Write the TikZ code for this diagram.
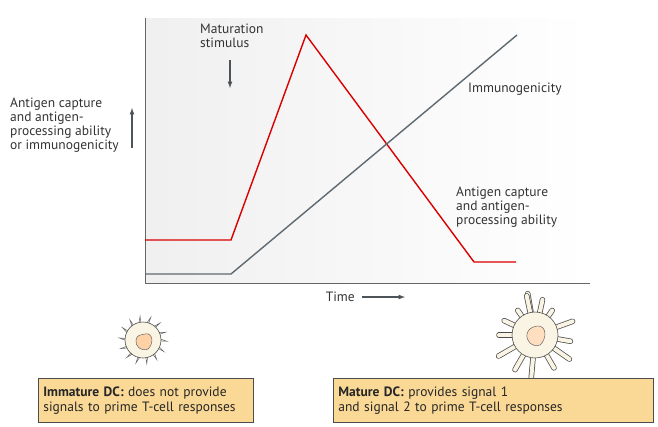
\documentclass[tikz,border=0pt]{standalone}
\usepackage{fontspec}
\setmainfont{PT Sans}
\definecolor{boxc}{RGB}{250,216,150}
\definecolor{slate}{RGB}{95,105,112}
\definecolor{cellc}{RGB}{250,244,228}
\begin{document}
\begin{tikzpicture}[x=1pt,y=-1pt,
  lbl/.style={font=\fontsize{13.5}{14}\selectfont, text=black!80, align=left, inner sep=0},
  box/.style={draw=black!70, fill=boxc, line width=0.8pt, font=\fontsize{13.5}{15}\selectfont, align=left, text=black!85, inner sep=5pt},
  arr/.style={-latex, draw=slate!80!black, line width=1.2pt},
  cellb/.style={draw=black!70, line width=0.6pt, fill=cellc}]
\useasboundingbox (0,0) rectangle (658,426);
% plot area
\fill[left color=black!6, right color=white] (145,18) rectangle (590,283);
\draw[black!60, line width=1pt] (145,18) -- (145,283) -- (590,283);
\coordinate (r0) at (145,240); \coordinate (r1) at (231,240); \coordinate (r2) at (306,35);
\coordinate (r3) at (474,262); \coordinate (r4) at (516,262);
\coordinate (g0) at (145,274); \coordinate (g1) at (231,274); \coordinate (g2) at (517,35);
\draw[red!85!black, line width=1.4pt] (r0)--(r1)--(r2)--(r3)--(r4);
\draw[slate, line width=1.4pt] (g0)--(g1)--(g2);
% labels
\node[lbl, anchor=north west] (ms) at (200,24) {Maturation\\stimulus};
\coordinate (msa) at (230,60); \coordinate (msb) at (230,88);
\draw[arr] (msa) -- (msb);
\node[lbl, anchor=west] (yl) at (10,125) {Antigen capture\\and antigen-\\processing ability\\or immunogenicity};
\coordinate (ya) at (132,148); \coordinate (yb) at (132,108);
\draw[arr] (ya) -- (yb);
\node[lbl, anchor=west] (im) at (468,89) {Immunogenicity};
\node[lbl, anchor=west] (ac) at (456,207) {Antigen capture\\and antigen-\\processing ability};
\node[lbl, anchor=east] (tm) at (355,297) {Time};
\coordinate (ta) at (362,297); \coordinate (tb) at (405,297);
\draw[arr] (ta) -- (tb);
% immature cell
\begin{scope}[shift={(143,340)}]
  \foreach \a in {0,26,...,359}{
    \draw[black!60, line width=0.5pt, fill=cellc] (\a-4:17) -- (\a+3:24) -- (\a+3:17);}
  \node[cellb, circle, minimum size=36pt, inner sep=0] (ic) at (0,0) {};
  \fill[orange!35, draw=black!60, line width=0.5pt] (2,-6) .. controls (10,-8) and (11,4) .. (5,9) .. controls (-2,12) and (-8,6) .. (-7,0) .. controls (-6,-5) and (-3,-5) .. (2,-6);
\end{scope}
% mature cell
\begin{scope}[shift={(535,335)}]
  \foreach \a/\l in {-100/42,-78/36,-55/30,-20/40,10/36,35/42,60/38,95/50,120/40,150/42,180/36,205/34,235/30,258/40}{
    \draw[black!70, line width=5.5pt, line cap=round] (0,0) -- (\a:\l);
    \draw[cellc, line width=4pt, line cap=round] (0,0) -- (\a:\l);}
  \node[circle, fill=cellc, draw=black!70, line width=0.6pt, minimum size=46pt, inner sep=0] (mc) at (0,0) {};
  \fill[cellc] (0,0) circle (22pt);
  \fill[orange!25, draw=black!60, line width=0.5pt] (2,-9) .. controls (12,-10) and (12,4) .. (5,10) .. controls (-3,13) and (-9,6) .. (-8,-1) .. controls (-7,-6) and (-3,-8) .. (2,-9);
\end{scope}
% boxes
\node[box, anchor=north west, text width=205pt, minimum height=44pt] (b1) at (38,378)
  {\textbf{Immature DC:} does not provide\\signals to prime T-cell responses};
\node[box, anchor=north west, text width=310pt, minimum height=44pt] (b2) at (333,378)
  {\textbf{Mature DC:} provides signal 1\\and signal 2 to prime T-cell responses};
\end{tikzpicture}
\end{document}
